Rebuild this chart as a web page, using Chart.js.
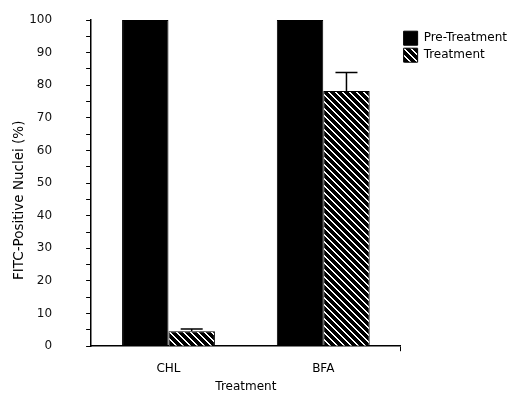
<!DOCTYPE html>
<html>
<head>
<meta charset="utf-8">
<script src="https://cdn.jsdelivr.net/npm/chart.js@4/dist/chart.umd.min.js"></script>
<style>
  body { margin: 0; background: #fff; }
  #wrap { width: 527px; height: 394px; }
</style>
</head>
<body>
<div id="wrap"><canvas id="chart" width="527" height="394"></canvas></div>
<script>
// data
const categories = ['CHL', 'BFA']
const seriesNames = ['Pre-Treatment', 'Treatment']
const preValues = [100, 100]
const treatValues = [4.6, 78.2]
const treatErrors = [0.7, 5.7]

// diagonal hatch, "\" direction
let makeHatch = function () {
  let n = 7
  let c = document.createElement('canvas')
  c.width = n
  c.height = n
  let g = c.getContext('2d')
  let img = g.createImageData(n, n)
  for (let y = 0; y < n; y++) {
    for (let x = 0; x < n; x++) {
      let k = (((x - y) % n) + n) % n
      let v = k < 5 ? 0 : 255
      let i = (y * n + x) * 4
      img.data[i] = v
      img.data[i + 1] = v
      img.data[i + 2] = v
      img.data[i + 3] = 255
    }
  }
  g.putImageData(img, 0, 0)
  return g.createPattern(c, 'repeat')
}

const font = "'DejaVu Sans', Verdana, sans-serif"
const yGap = 34
const xGap = 10

// upper error whiskers on the treatment bars
const errorBars = {
  id: 'errorBars',
  afterDatasetsDraw(chart) {
    let ctx = chart.ctx
    let yScale = chart.scales.y
    let meta = chart.getDatasetMeta(1)
    ctx.save()
    ctx.strokeStyle = '#000'
    ctx.lineWidth = 1.5
    meta.data.forEach((bar, i) => {
      let top = yScale.getPixelForValue(treatValues[i] + treatErrors[i])
      let base = yScale.getPixelForValue(treatValues[i])
      ctx.beginPath()
      ctx.moveTo(bar.x, base)
      ctx.lineTo(bar.x, top)
      ctx.moveTo(bar.x - 11, top)
      ctx.lineTo(bar.x + 11, top)
      ctx.stroke()
    })
    ctx.restore()
  },
}

let ctx = document.getElementById('chart').getContext('2d')
let chart = new Chart(ctx, {
  type: 'bar',
  data: {
    labels: categories,
    datasets: [
      {
        label: seriesNames[0],
        data: preValues,
        backgroundColor: '#000',
        borderColor: '#000',
        borderWidth: 1,
      },
      {
        label: seriesNames[1],
        data: treatValues,
        backgroundColor: makeHatch(),
        borderColor: '#000',
        borderWidth: 1,
      },
    ],
  },
  options: {
    responsive: false,
    animation: false,
    layout: { padding: { left: 9, top: 20, right: 10, bottom: 0 } },
    datasets: {
      bar: { categoryPercentage: 0.6, barPercentage: 1.0 },
    },
    scales: {
      x: {
        grid: {
          display: true,
          drawOnChartArea: false,
          offset: true,
          tickLength: 5,
          color: (c) => (c.type === 'scale' ? '#000' : 'rgba(0,0,0,0)'),
        },
        border: { display: true, color: '#000', width: 1.5 },
        ticks: { color: '#000', padding: xGap, font: { family: font, size: 12 } },
        title: {
          display: true,
          text: 'Treatment',
          color: '#000',
          font: { family: font, size: 12 },
          padding: { top: 4, bottom: 0 },
        },
        // chart.js counts tick padding twice when sizing; take the extra back
        afterFit: (s) => {
          s.height -= xGap
          s.paddingLeft = 0
          s.paddingRight = 0
        },
      },
      y: {
        min: 0,
        max: 100,
        grid: { drawOnChartArea: false, tickLength: 5, color: '#000' },
        border: { display: true, color: '#000', width: 1.5 },
        ticks: {
          stepSize: 5,
          autoSkip: false,
          padding: yGap,
          color: '#111',
          font: { family: font, size: 12 },
          callback: (v) => (v % 10 === 0 ? v : ''),
        },
        title: {
          display: true,
          text: 'FITC-Positive Nuclei (%)        ',
          color: '#000',
          font: { family: font, size: 13.5 },
          // negative bottom takes back the doubled tick padding
          padding: { top: 2, bottom: 2 - yGap },
        },
        afterFit: (s) => {
          s.paddingTop = 7
          s.paddingBottom = 7
        },
      },
    },
    plugins: {
      legend: {
        position: 'right',
        align: 'start',
        labels: {
          boxWidth: 14,
          boxHeight: 14,
          padding: 3,
          color: '#000',
          font: { family: font, size: 12 },
        },
        title: { display: true, text: ' ', font: { size: 1 }, padding: { top: 7, bottom: 0 } },
      },
      tooltip: { enabled: false },
    },
  },
  plugins: [errorBars],
})
</script>
</body>
</html>
